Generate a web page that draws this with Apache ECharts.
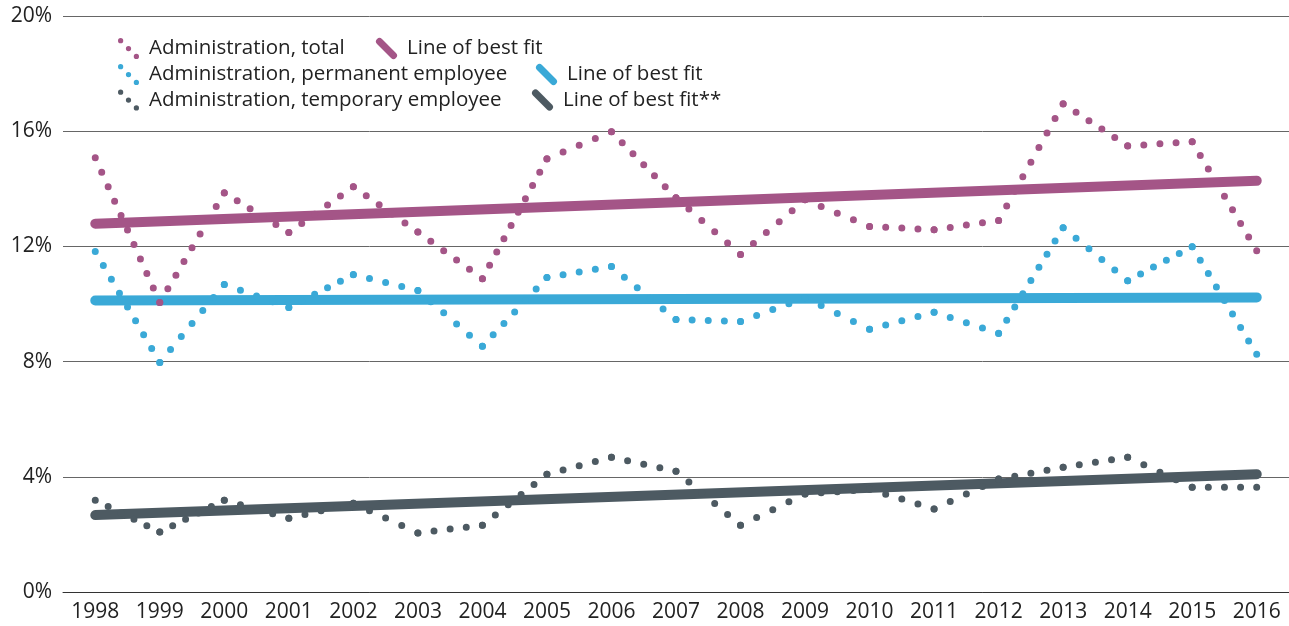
<!DOCTYPE html>
<html>
<head>
<meta charset="utf-8">
<script src="https://cdn.jsdelivr.net/npm/echarts@6/dist/echarts.min.js"></script>
<style>
  html, body { margin: 0; padding: 0; background: #fff; }
  #main { width: 1289px; height: 626px; }
</style>
</head>
<body>
<div id="main"></div>
<script>
// years on the x axis
var years = ['1998', '1999', '2000', '2001', '2002', '2003', '2004', '2005', '2006', '2007',
             '2008', '2009', '2010', '2011', '2012', '2013', '2014', '2015', '2016'];

// share in %, one value per year
var totalShare     = [15.08, 10.05, 13.86, 12.48, 14.07, 12.5, 10.88, 15.04, 15.98, 13.69,
                      11.72, 13.62, 12.69, 12.58, 12.9, 16.95, 15.49, 15.63, 11.85];
var permanentShare = [11.82, 7.97, 10.68, 9.88, 11.02, 10.47, 8.53, 10.92, 11.3, 9.46,
                      9.39, 10.22, 9.12, 9.71, 8.98, 12.65, 10.81, 11.99, 8.25];
var temporaryShare = [3.19, 2.08, 3.19, 2.56, 3.08, 2.05, 2.32, 4.09, 4.68, 4.19,
                      2.32, 3.4, 3.57, 2.88, 3.92, 4.33, 4.68, 3.64, 3.64];

// line of best fit: value at 1998 and at 2016
var fitTotal     = [12.79, 14.28];
var fitPermanent = [10.12, 10.23];
var fitTemporary = [2.67, 4.09];

var yMin = 0, yMax = 20, yStep = 4;

var seriesNames = ['Administration, total', 'Administration, permanent employee', 'Administration, temporary employee'];
var fitLabels = ['Line of best fit', 'Line of best fit', 'Line of best fit**'];

var colors = ['#a45587', '#3aa9d7', '#4d5a62'];

var dotsIcon = 'path://M0,3a3,3 0 1,0 6,0a3,3 0 1,0 -6,0ZM9,12a3,3 0 1,0 6,0a3,3 0 1,0 -6,0ZM18,21a3,3 0 1,0 6,0a3,3 0 1,0 -6,0Z';
var barIcon = 'path://M6.83,1.17L22.83,17.17A4,4 0 0,1 17.17,22.83L1.17,6.83A4,4 0 0,1 6.83,1.17Z';

var font = '"Open Sans", "Noto Sans", sans-serif';
var textColor = '#222';
var dotStep = 16;

// one series per year-to-year segment so the dots restart at every data point
function dotted(name, data, color) {
    var list = [];
    for (var i = 0; i < data.length - 1; i++) {
        list.push({
            name: name,
            type: 'line',
            data: data.map(function (v, j) { return (j === i || j === i + 1) ? v : null; }),
            z: 3,
            showSymbol: false,
            symbol: 'circle',
            itemStyle: { color: color, borderWidth: 0 },
            lineStyle: { color: color, width: 7, type: [0, dotStep], cap: 'round' },
            emphasis: { disabled: true },
            segStart: i
        });
    }
    return list;
}

function fit(name, ends, color) {
    return {
        name: name,
        type: 'line',
        data: [[years[0], ends[0]], [years[years.length - 1], ends[1]]],
        z: 2,
        symbol: 'none',
        itemStyle: { color: color },
        lineStyle: { color: color, width: 10, cap: 'round' },
        emphasis: { disabled: true }
    };
}

function legendItem(name, icon, left, top, label) {
    var l = {
        data: [name],
        icon: icon,
        left: left,
        top: top,
        padding: 0,
        itemWidth: 21,
        itemHeight: 21,
        selectedMode: false,
        itemStyle: { borderWidth: 0 },
        textStyle: { fontFamily: font, fontSize: 20.5, color: textColor, padding: [0, 0, 0, 5] }
    };
    if (label) l.formatter = label;
    return l;
}

var myChart = echarts.init(document.getElementById('main'));

var dottedSeries = [].concat(
    dotted(seriesNames[2], temporaryShare, colors[2]),
    dotted(seriesNames[1], permanentShare, colors[1]),
    dotted(seriesNames[0], totalShare, colors[0])
);

var option = {
    animation: false,
    legend: [
        legendItem(seriesNames[0], dotsIcon, 118, 38),
        legendItem('fit-total', barIcon, 376, 38, fitLabels[0]),
        legendItem(seriesNames[1], dotsIcon, 118, 64),
        legendItem('fit-permanent', barIcon, 536, 64, fitLabels[1]),
        legendItem(seriesNames[2], dotsIcon, 118, 89.5),
        legendItem('fit-temporary', barIcon, 532, 89.5, fitLabels[2])
    ],
    grid: {
        left: 63,
        right: 0,
        top: 16,
        bottom: 34
    },
    xAxis: {
        type: 'category',
        data: years,
        boundaryGap: true,
        axisLine: { lineStyle: { color: '#333', width: 1 } },
        axisTick: { inside: true, length: 6, alignWithLabel: true, lineStyle: { color: '#333' } },
        axisLabel: { fontFamily: font, fontSize: 21, color: textColor, margin: 10 }
    },
    yAxis: {
        type: 'value',
        min: yMin,
        max: yMax,
        interval: yStep,
        axisLine: { show: false },
        axisTick: { show: false },
        splitLine: { lineStyle: { color: '#666', width: 1 } },
        axisLabel: { fontFamily: font, fontSize: 21, color: textColor, margin: 11, formatter: '{value}%' }
    },
    series: [
        fit('fit-total', fitTotal, colors[0]),
        fit('fit-permanent', fitPermanent, colors[1]),
        fit('fit-temporary', fitTemporary, colors[2])
    ].concat(dottedSeries)
};

myChart.setOption(option);

// stretch the dot gap a little on each segment so a dot lands on both year points
dottedSeries.forEach(function (s) {
    var i = s.segStart;
    var a = myChart.convertToPixel({ gridIndex: 0 }, [i, s.data[i]]);
    var b = myChart.convertToPixel({ gridIndex: 0 }, [i + 1, s.data[i + 1]]);
    var len = Math.sqrt(Math.pow(b[0] - a[0], 2) + Math.pow(b[1] - a[1], 2));
    var n = Math.max(1, Math.round(len / dotStep));
    s.lineStyle.type = [0, len / n - 0.01];
});
myChart.setOption(option);
</script>
</body>
</html>
